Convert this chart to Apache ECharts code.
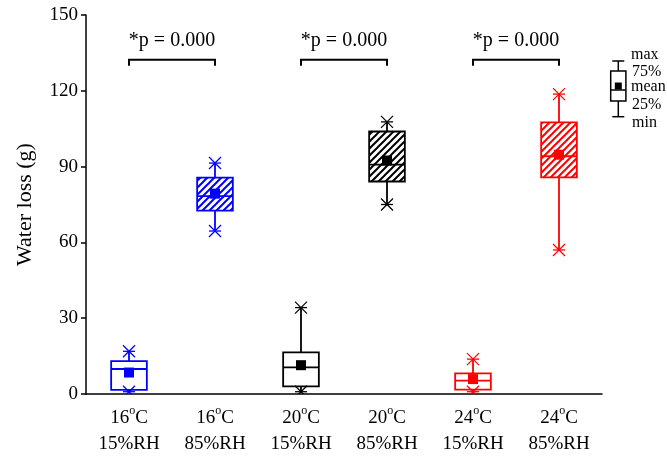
<!DOCTYPE html>
<html>
<head>
<meta charset="utf-8">
<script src="https://cdn.jsdelivr.net/npm/echarts@6/dist/echarts.min.js"></script>
<style>html,body{margin:0;padding:0;background:#fff;}#c{width:667px;height:457px;}</style>
</head>
<body>
<div id="c"></div>
<script>
// ---- data ----
const categories = ['16°C\n15%RH', '16°C\n85%RH', '20°C\n15%RH', '20°C\n85%RH', '24°C\n15%RH', '24°C\n85%RH'];
const minVals    = [0.9, 64.5, 0.9, 75.0, 0.9, 57.0];
const q1Vals     = [1.6, 72.6, 3.0, 84.1, 1.7, 85.7];
const medianVals = [9.9, 78.3, 10.5, 90.8, 5.3, 94.1];
const q3Vals     = [13.0, 85.6, 16.5, 103.9, 8.2, 107.5];
const maxVals    = [16.9, 91.4, 34.2, 107.7, 13.8, 118.7];
const meanVals   = [8.5, 79.3, 11.4, 92.4, 5.9, 94.7];
const yTicks     = [0, 30, 60, 90, 120, 150];
const comparisons = [[0, 1], [2, 3], [4, 5]];
const compLevel  = 132.3;
const compLabel  = '*p = 0.000';

// ---- styles ----
const boxColors = ['#0000ff', '#0000ff', '#000000', '#000000', '#ff0000', '#ff0000'];
const hatched   = [false, true, false, true, false, true];
const FONT = '"Liberation Serif", "Times New Roman", serif';

function makeHatch(color) {
  const s = 7;
  const cv = document.createElement('canvas');
  cv.width = s; cv.height = s;
  const ctx = cv.getContext('2d');
  ctx.strokeStyle = color;
  ctx.lineWidth = 2;
  ctx.beginPath();
  ctx.moveTo(-1, s + 1); ctx.lineTo(s + 1, -1);
  ctx.moveTo(-1, 1); ctx.lineTo(1, -1);
  ctx.moveTo(s - 1, s + 1); ctx.lineTo(s + 1, s - 1);
  ctx.stroke();
  return cv;
}
const hatchCache = {};
function hatchFill(color) {
  if (!hatchCache[color]) hatchCache[color] = { image: makeHatch(color), repeat: 'repeat' };
  return hatchCache[color];
}

function star(cx, cy, color) {
  const h = 6;
  const st = { stroke: color, lineWidth: 1.3 };
  return [
    { type: 'line', shape: { x1: cx - h, y1: cy - h, x2: cx + h, y2: cy + h }, style: st },
    { type: 'line', shape: { x1: cx - h, y1: cy + h, x2: cx + h, y2: cy - h }, style: st },
    { type: 'line', shape: { x1: cx - h, y1: cy, x2: cx + h, y2: cy }, style: st }
  ];
}

const boxData = categories.map((c, i) => [i, minVals[i], q1Vals[i], medianVals[i], q3Vals[i], maxVals[i], meanVals[i]]);

function renderBox(params, api) {
  const i = api.value(0);
  const color = boxColors[i];
  const x = api.coord([i, 0])[0];
  const w = api.size([1, 0])[0] * 0.415;
  const yMin = api.coord([i, api.value(1)])[1];
  const yQ1 = api.coord([i, api.value(2)])[1];
  const yMed = api.coord([i, api.value(3)])[1];
  const yQ3 = api.coord([i, api.value(4)])[1];
  const yMax = api.coord([i, api.value(5)])[1];
  const yMean = api.coord([i, api.value(6)])[1];
  const lw = 1.8;
  const children = [
    { type: 'line', shape: { x1: x, y1: yQ3, x2: x, y2: yMax }, style: { stroke: color, lineWidth: lw } },
    { type: 'line', shape: { x1: x, y1: yQ1, x2: x, y2: yMin }, style: { stroke: color, lineWidth: lw } },
    { type: 'rect', shape: { x: x - w / 2, y: yQ3, width: w, height: yQ1 - yQ3 },
      style: { fill: hatched[i] ? hatchFill(color) : '#fff', stroke: color, lineWidth: lw } },
    { type: 'line', shape: { x1: x - w / 2, y1: yMed, x2: x + w / 2, y2: yMed }, style: { stroke: color, lineWidth: lw } },
    { type: 'rect', shape: { x: x - 5, y: yMean - 5, width: 10, height: 10 }, style: { fill: color } }
  ].concat(star(x, yMax, color), star(x, yMin, color));
  return { type: 'group', children: children };
}

function renderComp(params, api) {
  const a = api.coord([api.value(0), api.value(2)]);
  const b = api.coord([api.value(1), api.value(2)]);
  const drop = 6;
  return {
    type: 'group',
    children: [
      { type: 'polyline', shape: { points: [[a[0], a[1] + drop], [a[0], a[1]], [b[0], b[1]], [b[0], b[1] + drop]] },
        style: { stroke: '#000', lineWidth: 2, fill: null } },
      { type: 'text', style: { text: compLabel, x: (a[0] + b[0]) / 2, y: a[1] - 19,
        align: 'center', verticalAlign: 'middle', font: '20px ' + FONT, fill: '#000' } }
    ]
  };
}

const chart = echarts.init(document.getElementById('c'), null, { renderer: 'canvas' });

const lgX = 618.3;
const lgFont = '16px ' + FONT;
chart.setOption({
  animation: false,
  backgroundColor: '#fff',
  grid: { left: 86, right: 65, top: 15, bottom: 62, containLabel: false },
  xAxis: {
    type: 'category',
    data: categories,
    boundaryGap: true,
    axisLine: { lineStyle: { color: '#000', width: 1.5 } },
    axisTick: { alignWithLabel: true, interval: 0, length: 5, lineStyle: { color: '#000', width: 1.5 } },
    axisLabel: {
      interval: 0,
      margin: 11,
      color: '#000',
      fontFamily: FONT,
      fontSize: 19,
      lineHeight: 26,
      formatter: v => v.replace('°', '{o|o}'),
      rich: { o: { fontSize: 12, fontFamily: FONT, color: '#000', verticalAlign: 'top', lineHeight: 26 } }
    },
    splitLine: { show: false }
  },
  yAxis: {
    type: 'value',
    min: yTicks[0], max: yTicks[yTicks.length - 1], interval: 30,
    name: 'Water loss (g)',
    nameLocation: 'middle',
    nameGap: 50,
    nameRotate: 90,
    nameTextStyle: { fontFamily: FONT, fontSize: 22, color: '#000' },
    axisLine: { show: true, lineStyle: { color: '#000', width: 1.5 } },
    axisTick: { show: true, length: 5, lineStyle: { color: '#000', width: 1.5 } },
    axisLabel: { color: '#000', fontFamily: FONT, fontSize: 19, margin: 8 },
    splitLine: { show: false }
  },
  series: [
    { type: 'custom', renderItem: renderBox, data: boxData, clip: true, z: 3 },
    { type: 'custom', renderItem: renderComp, data: comparisons.map(c => [c[0], c[1], compLevel]), clip: false, z: 4 }
  ],
  graphic: [
    { type: 'line', shape: { x1: lgX, y1: 61, x2: lgX, y2: 71 }, style: { stroke: '#000', lineWidth: 1.5 } },
    { type: 'line', shape: { x1: lgX, y1: 101, x2: lgX, y2: 116.7 }, style: { stroke: '#000', lineWidth: 1.5 } },
    { type: 'line', shape: { x1: lgX - 6, y1: 61, x2: lgX + 6, y2: 61 }, style: { stroke: '#000', lineWidth: 1.5 } },
    { type: 'line', shape: { x1: lgX - 6, y1: 116.7, x2: lgX + 6, y2: 116.7 }, style: { stroke: '#000', lineWidth: 1.5 } },
    { type: 'rect', shape: { x: lgX - 7.6, y: 71, width: 15.2, height: 30 }, style: { fill: '#fff', stroke: '#000', lineWidth: 1.5 } },
    { type: 'line', shape: { x1: lgX - 7.6, y1: 90, x2: lgX + 7.6, y2: 90 }, style: { stroke: '#000', lineWidth: 1.5 } },
    { type: 'rect', shape: { x: lgX - 3.5, y: 82.5, width: 7, height: 7 }, style: { fill: '#000' } },
    { type: 'text', style: { text: 'max', x: 631, y: 55, verticalAlign: 'middle', font: lgFont, fill: '#000' } },
    { type: 'text', style: { text: '75%', x: 632, y: 71.5, verticalAlign: 'middle', font: lgFont, fill: '#000' } },
    { type: 'text', style: { text: 'mean', x: 631, y: 87, verticalAlign: 'middle', font: lgFont, fill: '#000' } },
    { type: 'text', style: { text: '25%', x: 632, y: 105, verticalAlign: 'middle', font: lgFont, fill: '#000' } },
    { type: 'text', style: { text: 'min', x: 632, y: 123, verticalAlign: 'middle', font: lgFont, fill: '#000' } }
  ]
});
</script>
</body>
</html>
